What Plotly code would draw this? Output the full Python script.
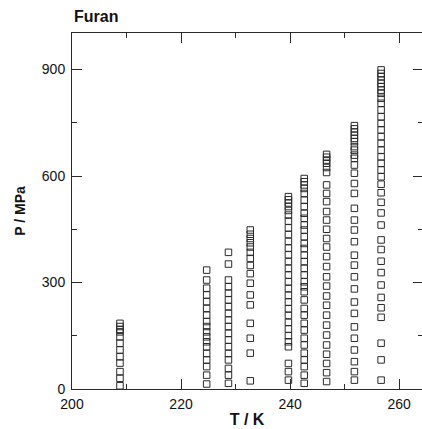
import plotly.graph_objects as go

# Isotherm temperatures (K) and the measured pressures (MPa) along each one
temps = [208.8, 224.7, 228.7, 232.7, 239.7, 242.6, 246.7, 251.8, 256.7]

p_209 = [185, 176, 168, 161, 147, 129, 110, 91, 73, 49, 30, 9]
p_225 = [335, 307, 284, 265, 246, 227, 208, 190, 176, 161, 147, 133, 119, 100, 82, 63, 39, 14]
p_229 = [385, 352, 307, 288, 270, 251, 232, 213, 194, 176, 157, 138, 119, 100, 82, 58, 39, 16]
p_233 = [448, 436, 424, 412, 400, 385, 368, 348, 325, 298, 265, 237, 185, 143, 101, 23]
p_240 = [542, 533, 524, 514, 503, 490, 473, 454, 435, 416, 397, 378, 359, 340, 321, 302,
         283, 264, 245, 226, 207, 188, 169, 150, 133, 119, 72, 49, 25]
p_243 = [593, 584, 575, 565, 551, 532, 514, 495, 481, 462, 448, 429, 410, 396, 377, 359,
         340, 321, 302, 288, 274, 251, 227, 208, 185, 166, 143, 124, 101, 82, 63, 39, 16]
p_247 = [661, 653, 645, 636, 624, 610, 575, 551, 528, 500, 476, 450, 424, 400, 373, 345,
         316, 290, 262, 236, 208, 180, 152, 124, 98, 72, 46, 21]
p_252 = [742, 733, 724, 715, 706, 697, 683, 673, 659, 650, 631, 608, 579, 551, 509, 476,
         448, 415, 377, 349, 316, 282, 245, 213, 175, 143, 110, 77, 49, 25]
p_257 = [899, 889, 880, 870, 861, 852, 842, 833, 819, 805, 786, 767, 748, 730, 711, 692,
         673, 654, 636, 617, 598, 577, 553, 526, 496, 462, 420, 393, 360, 328, 293, 258,
         229, 202, 129, 82, 25]

pressures = [p_209, p_225, p_229, p_233, p_240, p_243, p_247, p_252, p_257]

x_major = [200, 220, 240, 260]
y_major = [0, 300, 600, 900]

xs, ys = [], []
for t, plist in zip(temps, pressures):
    xs += [t] * len(plist)
    ys += plist

ink = "#2a2a2a"
font = "Liberation Sans, Arial, sans-serif"

fig = go.Figure()
fig.add_trace(go.Scatter(
    x=xs, y=ys, mode="markers",
    marker=dict(symbol="square-open", size=6.5, color=ink, line=dict(width=1, color=ink)),
    showlegend=False, hoverinfo="skip",
))
# empty trace so the right-hand tick-only axis is rendered
fig.add_trace(go.Scatter(x=[], y=[], yaxis="y2", showlegend=False))

fig.update_layout(
    width=422, height=429,
    margin=dict(l=72, r=0, t=33, b=40),
    paper_bgcolor="white", plot_bgcolor="white",
    font=dict(family=font, size=14, color="#111"),
    xaxis=dict(
        range=[200, 264.2], tickmode="array", tickvals=x_major,
        ticks="inside", ticklen=10, tickwidth=1, tickcolor=ink, ticklabelstandoff=2,
        minor=dict(dtick=10, tick0=200, ticks="inside", ticklen=5, tickcolor=ink),
        showline=True, linecolor=ink, linewidth=1, mirror="ticks",
        showgrid=False, zeroline=False,
        title=dict(text="<b>T / K</b>", font=dict(size=16), standoff=3),
    ),
    yaxis=dict(
        range=[0, 1003], tickmode="array", tickvals=y_major,
        ticks="inside", ticklen=10, tickwidth=1, tickcolor=ink, ticklabelstandoff=3,
        minor=dict(dtick=150, tick0=0, ticks="inside", ticklen=5, tickcolor=ink),
        showline=True, linecolor=ink, linewidth=1, mirror=False,
        showgrid=False, zeroline=False,
        title=dict(text="<b>P / MPa</b>", font=dict(size=14), standoff=12),
    ),
    yaxis2=dict(
        overlaying="y", side="right", matches="y", range=[0, 1003],
        tickmode="array", tickvals=y_major, showticklabels=False,
        ticks="inside", ticklen=9, tickwidth=1, tickcolor=ink,
        minor=dict(dtick=150, tick0=0, ticks="inside", ticklen=4, tickcolor=ink),
        showline=False, showgrid=False, zeroline=False,
    ),
    title=dict(text="<b>Furan</b>", x=74 / 422, xanchor="left", y=1 - 16 / 429,
               yanchor="middle", font=dict(size=16, family=font, color="#111")),
)

fig.write_html("out.html")
